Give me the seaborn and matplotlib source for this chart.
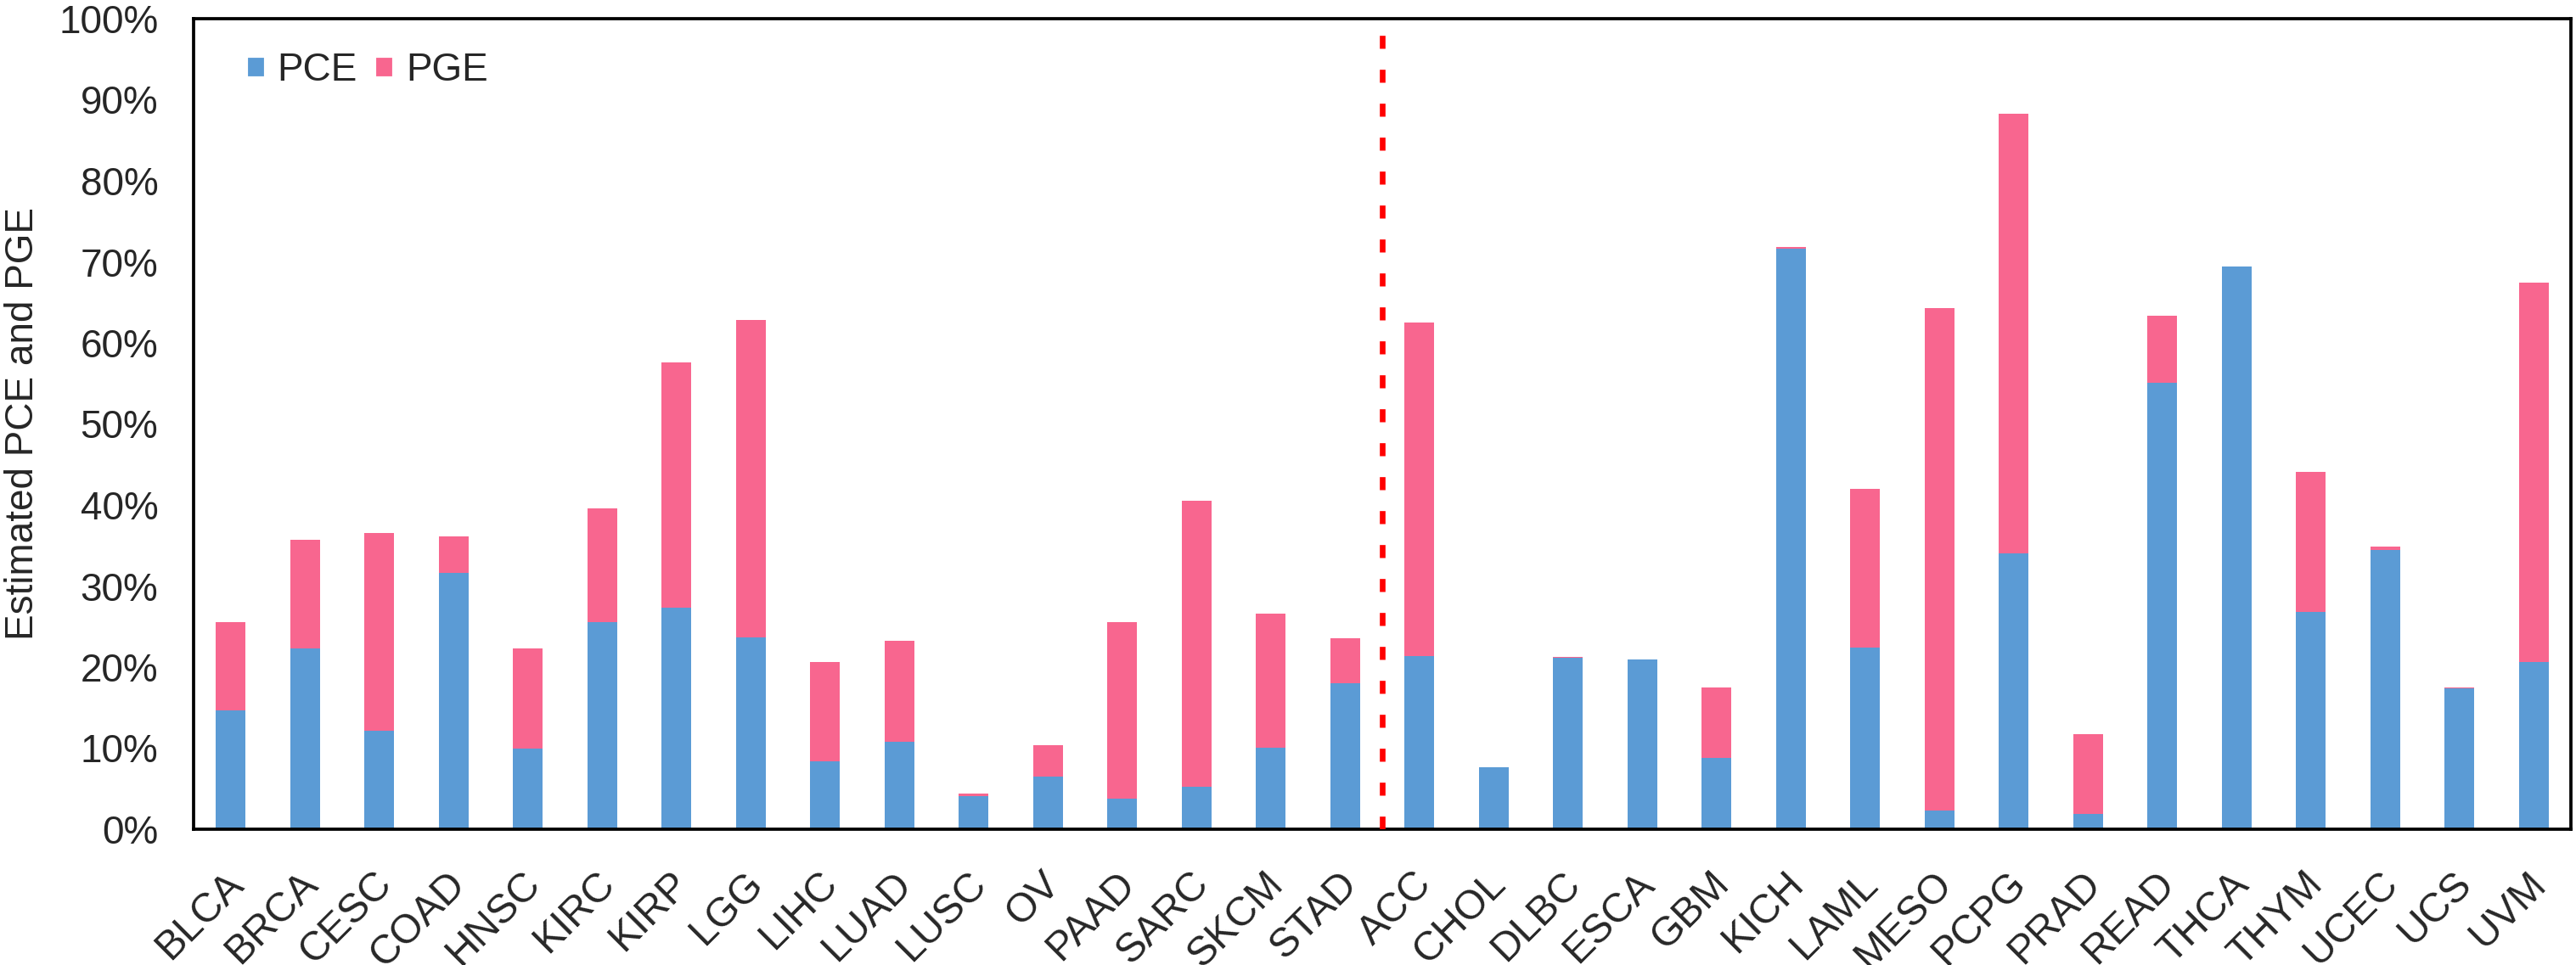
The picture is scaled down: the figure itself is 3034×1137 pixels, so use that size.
import numpy as np
import pandas as pd
import matplotlib
matplotlib.use("Agg")
import matplotlib.pyplot as plt
import matplotlib.transforms as mtransforms
from matplotlib.patches import Patch
import seaborn as sns

# ---- data (percent) ----
cancers = ["BLCA", "BRCA", "CESC", "COAD", "HNSC", "KIRC", "KIRP", "LGG",
           "LIHC", "LUAD", "LUSC", "OV", "PAAD", "SARC", "SKCM", "STAD",
           "ACC", "CHOL", "DLBC", "ESCA", "GBM", "KICH", "LAML", "MESO",
           "PCPG", "PRAD", "READ", "THCA", "THYM", "UCEC", "UCS", "UVM"]
pce = [14.7, 22.3, 12.1, 31.6, 9.9, 25.6, 27.3, 23.7,
       8.4, 10.8, 4.1, 6.5, 3.8, 5.2, 10.1, 18.0,
       21.4, 7.6, 21.2, 20.9, 8.8, 71.6, 22.4, 2.3,
       34.0, 1.9, 55.1, 69.4, 26.8, 34.4, 17.4, 20.6]
pge = [10.9, 13.4, 24.4, 4.5, 12.4, 14.0, 30.3, 39.1,
       12.2, 12.4, 0.3, 3.9, 21.8, 35.3, 16.5, 5.6,
       41.1, 0.0, 0.1, 0.0, 8.7, 0.2, 19.6, 62.0,
       54.3, 9.8, 8.3, 0.0, 17.3, 0.5, 0.1, 46.8]
split_after = "STAD"   # red dotted separator goes after this one

pce_color = "#5B9BD5"
pge_color = "#F8668F"

df = pd.DataFrame({"cancer": cancers, "PCE": pce, "PGE": pge})
df["total"] = df["PCE"] + df["PGE"]

# ---- style ----
sns.set_theme(style="white")
plt.rcParams["font.family"] = ["Liberation Sans", "DejaVu Sans"]
fs = 11

fig = plt.figure(figsize=(3034 / 300, 1137 / 300), dpi=300)
ax = fig.add_axes([228 / 3034, 160 / 1137, 2800 / 3034, 955 / 1137])

# stacked bars: draw total in pink, then PCE in blue on top
sns.barplot(data=df, x="cancer", y="total", color=pge_color, width=0.4,
            saturation=1, errorbar=None, linewidth=0, ax=ax)
sns.barplot(data=df, x="cancer", y="PCE", color=pce_color, width=0.4,
            saturation=1, errorbar=None, linewidth=0, ax=ax)

sep = cancers.index(split_after) + 0.5
ax.axvline(sep, color="#FF0000", lw=1.6, linestyle=(0, (2.3, 3.7)), zorder=3)

ax.set_xlim(-0.5, len(cancers) - 0.5)
ax.set_ylim(0, 100)
ax.set_yticks(np.arange(0, 101, 10))
ax.set_yticklabels([f"{v}%" for v in range(0, 101, 10)], fontsize=fs)
ax.tick_params(axis="y", length=0, pad=10)
ax.tick_params(axis="x", length=0, pad=10)
ax.set_xlabel("")
ax.set_ylabel("Estimated PCE and PGE", fontsize=fs)
ax.yaxis.set_label_coords(-0.064, 0.5)

offset = mtransforms.ScaledTranslation(-2 / 72, 0, fig.dpi_scale_trans)
for lab in ax.get_xticklabels():
    lab.set_rotation(45)
    lab.set_ha("right")
    lab.set_va("top")
    lab.set_rotation_mode("anchor")
    lab.set_fontsize(11.5)
    lab.set_transform(lab.get_transform() + offset)

for sp in ax.spines.values():
    sp.set_visible(True)
    sp.set_color("black")
    sp.set_linewidth(0.9)

handles = [Patch(facecolor=pce_color, label="PCE"),
           Patch(facecolor=pge_color, label="PGE")]
ax.legend(handles=handles, loc="center left", bbox_to_anchor=(0.022, 0.936),
          ncol=2, frameon=False, fontsize=fs, handlelength=0.5,
          handleheight=0.5, handletextpad=0.3, columnspacing=0.45,
          borderaxespad=0, borderpad=0)

fig.savefig("out.png", dpi=300)
